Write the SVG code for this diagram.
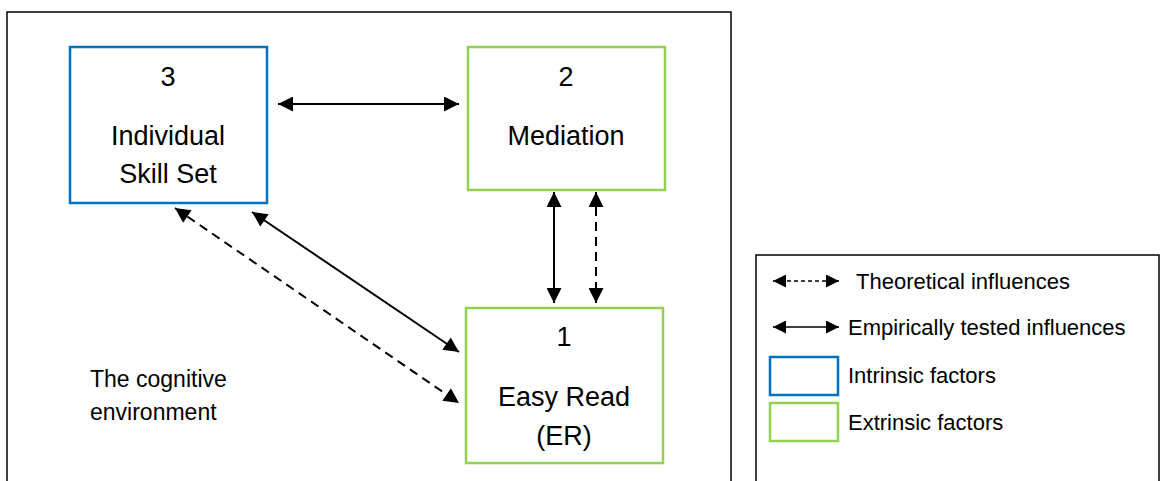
<svg xmlns="http://www.w3.org/2000/svg" width="1161" height="481" viewBox="0 0 1161 481">
<style>
.frame{fill:#fff;stroke:#000;stroke-width:1.5}
.intr{fill:#fff;stroke:#0070C0;stroke-width:2.5}
.extr{fill:#fff;stroke:#92D050;stroke-width:2.5}
.lbl{font-family:"Liberation Sans",Arial,sans-serif;font-size:27px;fill:#000;text-anchor:middle}
.env{font-family:"Liberation Sans",Arial,sans-serif;font-size:23px;fill:#000}
.leg{font-family:"Liberation Sans",Arial,sans-serif;font-size:22px;fill:#000}
.c{fill:none;stroke:#000;stroke-width:2}
.d{stroke-dasharray:9 6}
.lc{fill:none;stroke:#000;stroke-width:1.5}
</style>
<defs>
<marker id="ah" viewBox="0 0 10 10" refX="10" refY="5" markerWidth="17" markerHeight="15" markerUnits="userSpaceOnUse" orient="auto-start-reverse">
<path d="M0,0 L10,5 L0,10 z" fill="#000"/>
</marker>
<marker id="ahs" viewBox="0 0 10 10" refX="10" refY="5" markerWidth="16" markerHeight="13" markerUnits="userSpaceOnUse" orient="auto-start-reverse">
<path d="M0,0 L10,5 L0,10 z" fill="#000"/>
</marker>
</defs>
<rect width="1161" height="481" fill="#fff"/>
<g id="environment">
<rect class="frame" x="7" y="12" width="724" height="480"/>
<text class="env" x="90" y="387">The cognitive</text>
<text class="env" x="90" y="420">environment</text>
</g>
<g id="connectors">
<line class="c" x1="278" y1="104" x2="459" y2="104" marker-start="url(#ah)" marker-end="url(#ah)"/>
<line class="c" x1="554" y1="192" x2="554" y2="303" marker-start="url(#ah)" marker-end="url(#ah)"/>
<line class="c d" x1="596" y1="192" x2="596" y2="303" marker-start="url(#ah)" marker-end="url(#ah)"/>
<line class="c" x1="252" y1="212" x2="459" y2="352" marker-start="url(#ah)" marker-end="url(#ah)"/>
<line class="c d" x1="175" y1="208" x2="459" y2="403" marker-start="url(#ah)" marker-end="url(#ah)"/>
</g>
<g id="node3">
<rect class="intr" x="70" y="47" width="197" height="156"/>
<text class="lbl" x="168" y="86">3</text>
<text class="lbl" x="168" y="145">Individual</text>
<text class="lbl" x="168" y="183">Skill Set</text>
</g>
<g id="node2">
<rect class="extr" x="468" y="47" width="197" height="143"/>
<text class="lbl" x="566" y="86">2</text>
<text class="lbl" x="566" y="145">Mediation</text>
</g>
<g id="node1">
<rect class="extr" x="466" y="308" width="197" height="155"/>
<text class="lbl" x="564" y="346">1</text>
<text class="lbl" x="564" y="406">Easy Read</text>
<text class="lbl" x="564" y="445">(ER)</text>
</g>
<g id="legend">
<rect class="frame" x="756" y="255" width="403" height="240"/>
<line class="lc" x1="773" y1="281" x2="839" y2="281" stroke-dasharray="4 3" marker-start="url(#ahs)" marker-end="url(#ahs)"/>
<text class="leg" x="856" y="289">Theoretical influences</text>
<line class="lc" x1="773" y1="327" x2="839" y2="327" marker-start="url(#ahs)" marker-end="url(#ahs)"/>
<text class="leg" x="848" y="335">Empirically tested influences</text>
<rect class="intr" x="770" y="357" width="68" height="38"/>
<text class="leg" x="848" y="383">Intrinsic factors</text>
<rect class="extr" x="770" y="403" width="68" height="38"/>
<text class="leg" x="848" y="430">Extrinsic factors</text>
</g>
</svg>
